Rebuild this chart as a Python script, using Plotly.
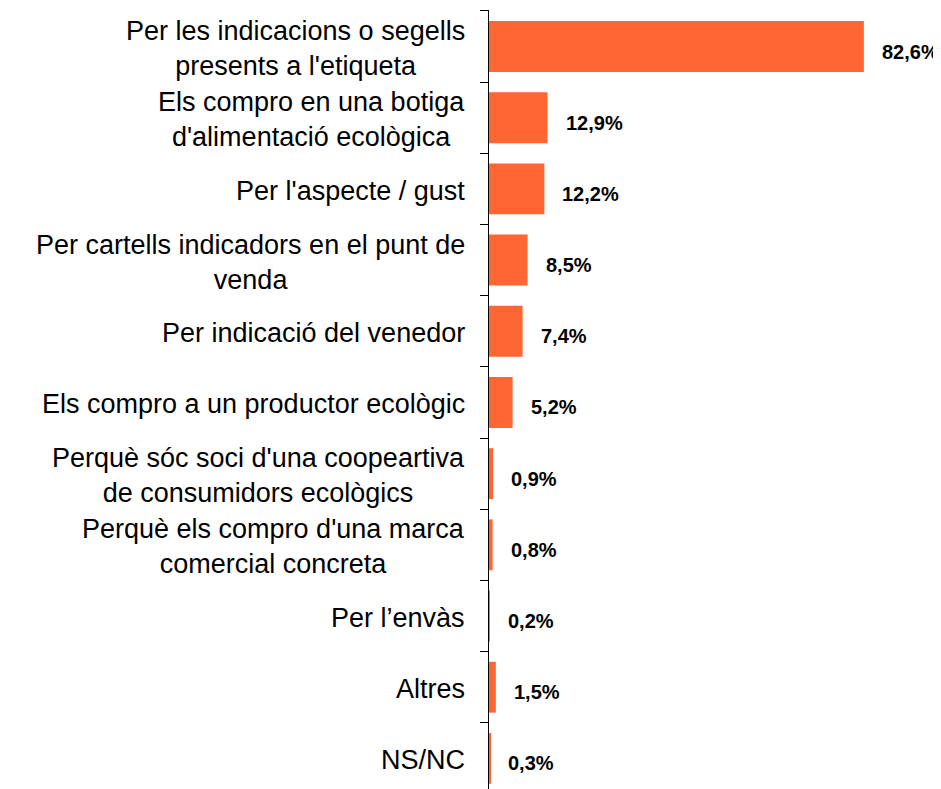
import plotly.graph_objects as go

# Motius per identificar productes ecològics (%)
categories = [
    "Per les indicacions o segells<br>presents a l'etiqueta",
    "Els compro en una botiga<br>d'alimentació ecològica",
    "Per l'aspecte / gust",
    "Per cartells indicadors en el punt de<br>venda",
    "Per indicació del venedor",
    "Els compro a un productor ecològic",
    "Perquè sóc soci d'una coopeartiva<br>de consumidors ecològics",
    "Perquè els compro d'una marca<br>comercial concreta",
    "Per l’envàs",
    "Altres",
    "NS/NC",
]
values = [82.6, 12.9, 12.2, 8.5, 7.4, 5.2, 0.9, 0.8, 0.2, 1.5, 0.3]
value_labels = [f"{v:.1f}%".replace(".", ",") for v in values]

BAR_COLOR = "#FF6633"
FONT = "Liberation Sans, Arial, sans-serif"

fig = go.Figure(go.Bar(
    x=values, y=categories, orientation="h",
    marker=dict(color=BAR_COLOR, line=dict(width=0)),
    hoverinfo="skip", showlegend=False,
))

# value labels just past the bar end
for cat, v, lab in zip(categories, values, value_labels):
    fig.add_annotation(x=v, y=cat, text=f"<b>{lab}</b>", showarrow=False,
                       xanchor="left", xshift=16, yshift=-5,
                       font=dict(family=FONT, size=20, color="black"))

# category labels, centred lines, right-aligned to the axis
for cat in categories:
    fig.add_annotation(x=0, xref="paper", y=cat, text=cat, showarrow=False,
                       xanchor="right", align="center", xshift=-22, yshift=-2,
                       font=dict(family=FONT, size=27, color="black"))

# page body adds an 8px offset, so margins are trimmed to compensate;
# the last category runs slightly past the bottom edge, as in the original
fig.update_layout(
    width=941, height=789,
    margin=dict(l=481, r=8, t=2, b=3),
    paper_bgcolor="white", plot_bgcolor="white",
    bargap=0.285,
    xaxis=dict(range=[0, 99.6], visible=False, fixedrange=True),
    yaxis=dict(autorange="reversed", showticklabels=False,
               showline=True, linecolor="black", linewidth=1,
               ticks="outside", tickson="boundaries", ticklen=8,
               tickcolor="black", showgrid=False, zeroline=False),
)

fig.write_html("out.html")
